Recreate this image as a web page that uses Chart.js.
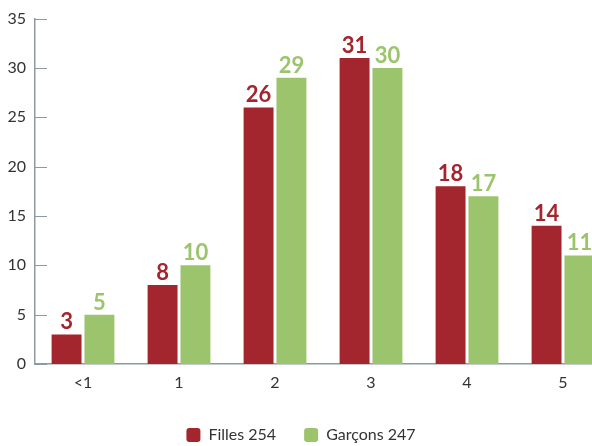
<!DOCTYPE html>
<html>
<head>
<meta charset="utf-8">
<script src="https://cdn.jsdelivr.net/npm/chart.js@4"></script>
<style>
  html, body { margin: 0; padding: 0; background: #fff; overflow: hidden; }
  #wrap { width: 612px; height: 446px; }
</style>
</head>
<body>
<div id="wrap"><canvas id="chart"></canvas></div>
<script>
const categories = ['<1', '1', '2', '3', '4', '5'];
const filles = [3, 8, 26, 31, 18, 14];
const garcons = [5, 10, 29, 30, 17, 11];
const seriesNames = ['Filles 254', 'Garçons 247'];
const yTicks = [0, 5, 10, 15, 20, 25, 30, 35];

const RED = '#a3252d';
const GREEN = '#9cc46c';
const AXIS = '#8f99a3';
const FONT = 'Lato, "Open Sans", sans-serif';

// value labels above each bar
const valueLabels = {
    id: 'valueLabels',
    afterDatasetsDraw(chart) {
        const ctx = chart.ctx;
        ctx.save();
        ctx.font = 'bold 22px ' + FONT;
        ctx.textAlign = 'center';
        ctx.textBaseline = 'alphabetic';
        chart.data.datasets.forEach((ds, i) => {
            ctx.fillStyle = ds.backgroundColor;
            chart.getDatasetMeta(i).data.forEach((bar, j) => {
                ctx.fillText(ds.data[j], bar.x, bar.y - 5);
            });
        });
        ctx.restore();
    }
};

// tick marks on the y axis point into the plot
const innerTicks = {
    id: 'innerTicks',
    afterDraw(chart) {
        const ctx = chart.ctx, y = chart.scales.y, left = chart.chartArea.left;
        ctx.save();
        ctx.strokeStyle = AXIS;
        ctx.lineWidth = 1;
        y.ticks.forEach(t => {
            const py = Math.round(y.getPixelForValue(t.value)) + 0.5;
            ctx.beginPath();
            ctx.moveTo(left, py);
            ctx.lineTo(left + 12, py);
            ctx.stroke();
        });
        ctx.restore();
    }
};

// legend row under the axis: rounded square + label, items spaced wider than the built-in one allows
const bottomLegend = {
    id: 'bottomLegend',
    afterDraw(chart) {
        const ctx = chart.ctx, box = 14, gap = 8, space = 28, cx = 301, cy = 435;
        ctx.save();
        ctx.font = '16px ' + FONT;
        ctx.textBaseline = 'middle';
        const items = chart.data.datasets.map(ds => ({ ds, w: box + gap + ctx.measureText(ds.label).width }));
        const total = items.reduce((s, it) => s + it.w, 0) + space * (items.length - 1);
        let x = cx - total / 2;
        items.forEach(it => {
            ctx.fillStyle = it.ds.backgroundColor;
            ctx.beginPath();
            ctx.roundRect(x, cy - box / 2, box, box, 3);
            ctx.fill();
            ctx.fillStyle = '#333';
            ctx.fillText(it.ds.label, x + box + gap, cy);
            x += it.w + space;
        });
        ctx.restore();
    }
};

new Chart(document.getElementById('chart'), {
    type: 'bar',
    data: {
        labels: categories,
        datasets: [
            { label: seriesNames[0], data: filles, backgroundColor: RED },
            { label: seriesNames[1], data: garcons, backgroundColor: GREEN }
        ]
    },
    options: {
        responsive: true, maintainAspectRatio: false, animation: false,
        categoryPercentage: 0.685, barPercentage: 0.91,
        layout: { padding: { top: 15, right: 1, left: 0, bottom: 47 } },
        plugins: {
            tooltip: { enabled: false },
            legend: { display: false }
        },
        scales: {
            x: {
                afterFit: s => { s.height = 35; },
                grid: { display: false, drawTicks: false },
                border: { display: true, color: AXIS, width: 1.5 },
                ticks: { font: { family: FONT, size: 16 }, color: '#333', padding: 9 }
            },
            y: {
                min: 0, max: 35,
                afterFit: s => { s.width = 35; },
                afterBuildTicks: s => { s.ticks = yTicks.map(v => ({ value: v })); },
                grid: { display: false, drawTicks: false },
                border: { display: true, color: AXIS, width: 1.5 },
                ticks: { font: { family: FONT, size: 16 }, color: '#333', padding: 9 }
            }
        }
    },
    plugins: [valueLabels, innerTicks, bottomLegend]
});
</script>
</body>
</html>
